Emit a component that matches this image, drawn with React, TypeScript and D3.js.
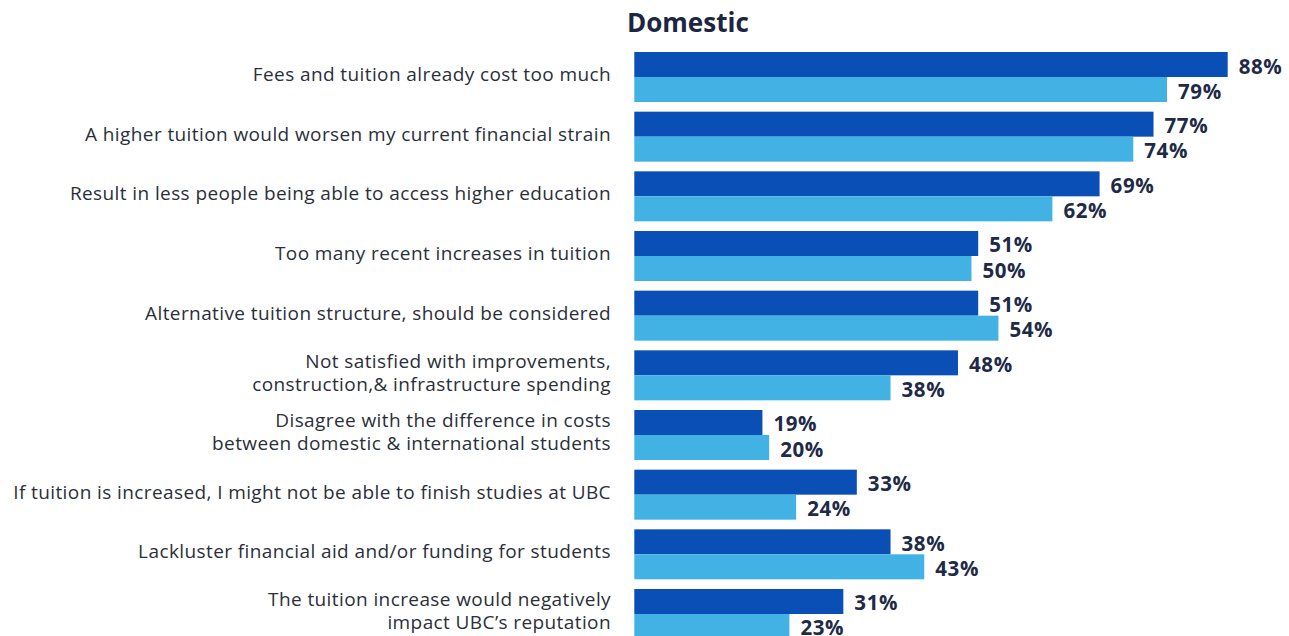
import React from "react";
import * as d3 from "d3";

const categories: string[][] = [
  ["Fees and tuition already cost too much"],
  ["A higher tuition would worsen my current financial strain"],
  ["Result in less people being able to access higher education"],
  ["Too many recent increases in tuition"],
  ["Alternative tuition structure, should be considered"],
  ["Not satisfied with improvements,", "construction,& infrastructure spending"],
  ["Disagree with the difference in costs", "between domestic & international students"],
  ["If tuition is increased, I might not be able to finish studies at UBC"],
  ["Lackluster financial aid and/or funding for students"],
  ["The tuition increase would negatively", "impact UBC\u2019s reputation"],
];
const seriesA: number[] = [88, 77, 69, 51, 51, 48, 19, 33, 38, 31];
const seriesB: number[] = [79, 74, 62, 50, 54, 38, 20, 24, 43, 23];
const seriesNames = ["A", "B"];
const colors = ["#0a4fb5", "#41b2e3"];
const title = "Domestic";

const W = 1289;
const H = 636;

export default function App() {
  const keys = categories.map((_, i) => String(i));
  const y = d3.scaleBand<string>().domain(keys).range([52, 639]).paddingInner(0.162).paddingOuter(0);
  const ySub = d3.scaleBand<string>().domain(seriesNames).range([0, y.bandwidth()]).padding(0);
  const x = d3.scaleLinear().domain([0, 88]).range([634.3, 1227.7]);
  const series = [seriesA, seriesB];
  const font = "'Open Sans', 'Noto Sans', sans-serif";
  return (
    <svg width={W} height={H} style={{ position: "absolute", left: 0, top: 0, background: "#fff" }}>
      <text x={627} y={32} fontFamily={font} fontWeight={700} fontSize={26} fill="#1c2541">
        {title}
      </text>
      {categories.map((lines, i) => {
        const cy = (y(keys[i]) as number) + y.bandwidth() / 2 - 3;
        const lh = 23;
        const start = cy - ((lines.length - 1) * lh) / 2;
        return (
          <text key={"c" + i} textAnchor="end" fontFamily={font} fontSize={19} letterSpacing={0.4} fill="#2b2f3a">
            {lines.map((ln, j) => (
              <tspan key={j} x={611} y={start + j * lh} dominantBaseline="central">
                {ln}
              </tspan>
            ))}
          </text>
        );
      })}
      {series.map((vals, s) =>
        vals.map((v, i) => {
          const by = (y(keys[i]) as number) + (ySub(seriesNames[s]) as number);
          return (
            <g key={"b" + s + "-" + i}>
              <rect x={x(0)} y={by} width={x(v) - x(0)} height={ySub.bandwidth()} fill={colors[s]} />
              <text
                x={x(v) + 11}
                y={by + ySub.bandwidth() / 2 + 1}
                dominantBaseline="central"
                fontFamily={font}
                fontWeight={700}
                fontSize={20.5}
                letterSpacing={0.6}
                fill="#1e2a46"
              >
                {v}%
              </text>
            </g>
          );
        })
      )}
    </svg>
  );
}
